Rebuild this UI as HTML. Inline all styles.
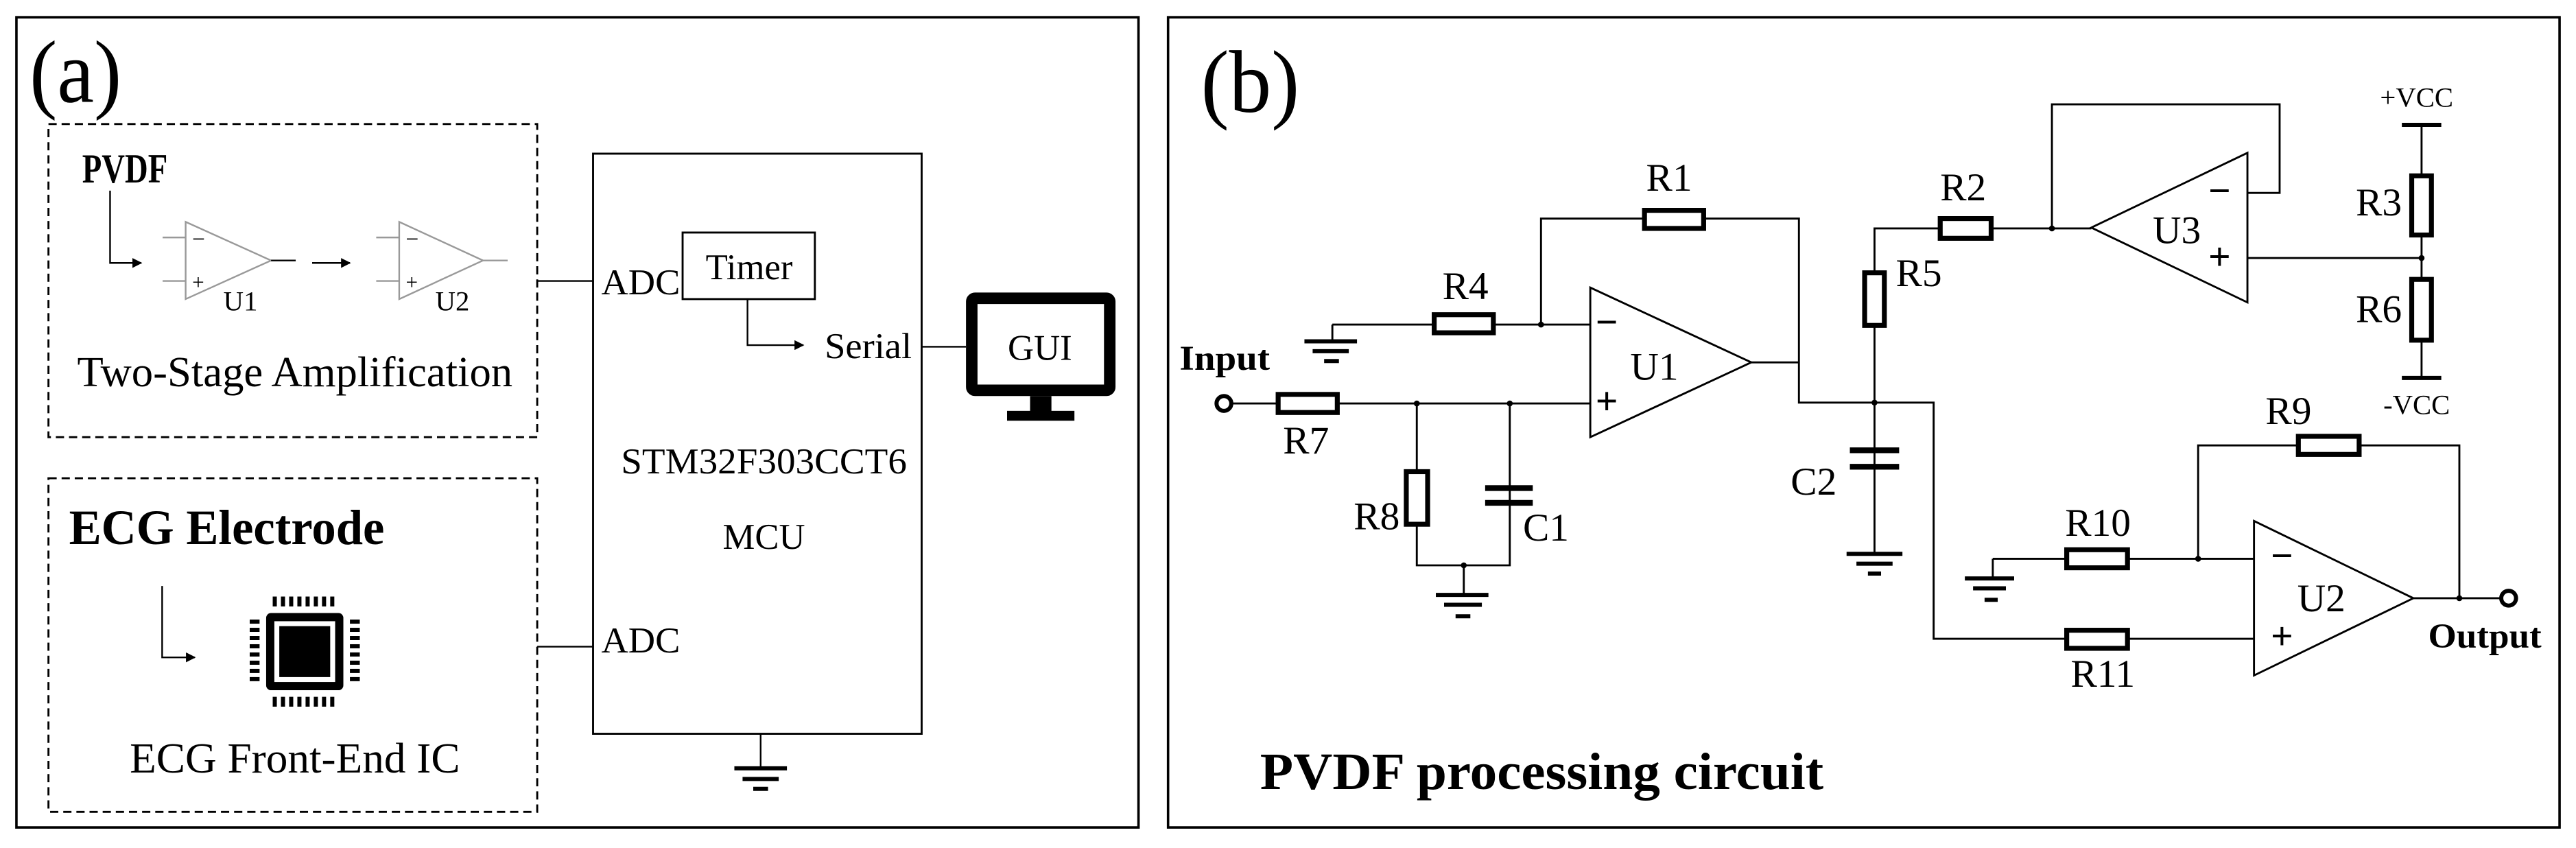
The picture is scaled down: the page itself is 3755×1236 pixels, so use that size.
<!DOCTYPE html>
<html><head><meta charset="utf-8"><style>
html,body{margin:0;padding:0;background:#fff;}
svg{display:block;}
text{font-family:"Liberation Serif",serif;fill:#000;}
.b{font-weight:bold;}
</style></head><body>
<svg width="3755" height="1236" viewBox="0 0 1568 516" preserveAspectRatio="none" xmlns="http://www.w3.org/2000/svg">
<defs>
<marker id="ar" viewBox="0 0 10 10" refX="9" refY="5" markerWidth="6" markerHeight="6" orient="auto"><path d="M0,0 L10,5 L0,10 z" fill="#000"/></marker>
</defs>
<!-- Panel a -->
<rect x="10" y="10.5" width="683" height="493" fill="none" stroke="#000" stroke-width="1.5"/>
<text x="18" y="62" font-size="54" textLength="56" lengthAdjust="spacingAndGlyphs">(a)</text>
<rect x="29.5" y="75.5" width="297.5" height="190.5" fill="none" stroke="#000" stroke-width="1.2" stroke-dasharray="5,3"/>
<rect x="29.5" y="291" width="297.5" height="203" fill="none" stroke="#000" stroke-width="1.2" stroke-dasharray="5,3"/>
<text x="50" y="111" font-size="25" class="b" textLength="52" lengthAdjust="spacingAndGlyphs">PVDF</text>
<polyline points="67,116 67,160 86,160" fill="none" stroke="#000" stroke-width="1" marker-end="url(#ar)"/>
<g stroke="#999" stroke-width="1" fill="none">
<polygon points="113,135 113,182 165,158.5" fill="#fff"/>
<line x1="99" y1="144.5" x2="113" y2="144.5"/><line x1="99" y1="171" x2="113" y2="171"/>
<line x1="165" y1="158.5" x2="180" y2="158.5" stroke="#000"/>
<polygon points="243,135 243,182 294,158.5" fill="#fff"/>
<line x1="229" y1="144.5" x2="243" y2="144.5"/><line x1="229" y1="171" x2="243" y2="171"/>
<line x1="294" y1="158.5" x2="309" y2="158.5"/>
</g>
<text x="117" y="150" font-size="14">−</text><text x="117" y="176" font-size="13">+</text>
<text x="247" y="150" font-size="14">−</text><text x="247" y="176" font-size="13">+</text>
<text x="136" y="189" font-size="17">U1</text><text x="265" y="189" font-size="17">U2</text>
<line x1="190" y1="160" x2="213" y2="160" stroke="#000" stroke-width="1" marker-end="url(#ar)"/>
<text x="47" y="235" font-size="26" textLength="265" lengthAdjust="spacingAndGlyphs">Two-Stage Amplification</text>
<line x1="327" y1="171" x2="361" y2="171" stroke="#000" stroke-width="1"/>
<rect x="361" y="93.5" width="200" height="353" fill="none" stroke="#000" stroke-width="1.2"/>
<text x="366" y="179" font-size="22" textLength="48" lengthAdjust="spacingAndGlyphs">ADC</text>
<rect x="415.5" y="141.5" width="80.5" height="40.5" fill="#fff" stroke="#000" stroke-width="1.2"/>
<text x="456" y="170" font-size="22" text-anchor="middle">Timer</text>
<polyline points="455,182 455,210 489,210" fill="none" stroke="#000" stroke-width="1" marker-end="url(#ar)"/>
<text x="502" y="218" font-size="22" textLength="53" lengthAdjust="spacingAndGlyphs">Serial</text>
<line x1="561" y1="211" x2="588" y2="211" stroke="#000" stroke-width="1"/>
<rect x="591.5" y="181.5" width="84" height="56" fill="none" stroke="#000" stroke-width="7" rx="2"/>
<rect x="627" y="241" width="13" height="10" fill="#000"/>
<rect x="613" y="250" width="41" height="6" fill="#000"/>
<text x="633" y="219" font-size="22" text-anchor="middle">GUI</text>
<text x="378" y="288" font-size="22" textLength="174" lengthAdjust="spacingAndGlyphs">STM32F303CCT6</text>
<text x="465" y="334" font-size="22" text-anchor="middle">MCU</text>
<line x1="327" y1="393.5" x2="361" y2="393.5" stroke="#000" stroke-width="1"/>
<text x="366" y="397" font-size="22" textLength="48" lengthAdjust="spacingAndGlyphs">ADC</text>
<g stroke="#000" stroke-width="2.5">
<line x1="463" y1="446.5" x2="463" y2="467.5" stroke-width="1"/>
<line x1="447" y1="467.5" x2="479" y2="467.5"/><line x1="452" y1="474" x2="474" y2="474"/><line x1="458.5" y1="480" x2="467.5" y2="480"/>
</g>
<text x="42" y="331" font-size="30" class="b" textLength="192" lengthAdjust="spacingAndGlyphs">ECG Electrode</text>
<polyline points="98.7,356.6 98.7,400 118.6,400" fill="none" stroke="#000" stroke-width="1" marker-end="url(#ar)"/>
<g fill="#000">
<rect x="162" y="373" width="47" height="47" rx="3"/>
<rect x="167" y="378" width="37" height="37" fill="#fff"/>
<rect x="170" y="381" width="31" height="31"/>
<g id="pins"><rect x="166" y="363" width="2.5" height="6"/><rect x="171" y="363" width="2.5" height="6"/><rect x="176" y="363" width="2.5" height="6"/><rect x="181" y="363" width="2.5" height="6"/><rect x="186" y="363" width="2.5" height="6"/><rect x="191" y="363" width="2.5" height="6"/><rect x="196" y="363" width="2.5" height="6"/><rect x="201" y="363" width="2.5" height="6"/></g>
<use href="#pins" transform="translate(0,61)"/>
<g transform="rotate(90 185.5 396.5)"><use href="#pins"/><use href="#pins" transform="translate(0,61)"/></g>
</g>
<text x="79" y="470" font-size="26" textLength="201" lengthAdjust="spacingAndGlyphs">ECG Front-End IC</text>

<!-- Panel b -->
<rect x="711" y="10.5" width="847" height="493" fill="none" stroke="#000" stroke-width="1.5"/>
<text x="731" y="68" font-size="54" textLength="60" lengthAdjust="spacingAndGlyphs">(b)</text>
<g stroke="#000" stroke-width="1.2" fill="none">
<polyline points="938,197.5 938,133 1095,133 1095,245 1177,245 1177,388.7 1372,388.7"/>
<line x1="811" y1="197.5" x2="969" y2="197.5"/>
<line x1="811" y1="197.5" x2="811" y2="207.7"/>
<polygon points="968,175 968,266 1066,220.5" fill="#fff"/>
<line x1="1066" y1="220.5" x2="1095" y2="220.5"/>
<line x1="750" y1="245.5" x2="968" y2="245.5"/>
<polyline points="862.4,245.5 862.4,344 919,344 919,245.5"/>
<line x1="891" y1="344" x2="891" y2="362"/>
<polyline points="1141,245 1141,139 1273,139"/>
<line x1="1141" y1="245" x2="1141" y2="337"/>
<polyline points="1249,139 1249,63.5 1387.6,63.5 1387.6,117.4 1368,117.4"/>
<polygon points="1273,138.5 1368,93 1368,184" fill="#fff"/>
<polyline points="1368,157 1474,157"/>
<line x1="1474" y1="76" x2="1474" y2="230"/>
<line x1="1213" y1="340" x2="1372" y2="340"/>
<line x1="1213" y1="340" x2="1213" y2="352"/>
<polyline points="1338,340 1338,271 1497,271 1497,364"/>
<polygon points="1372,317 1372,411 1469,364" fill="#fff"/>
<line x1="1469" y1="364" x2="1523" y2="364"/>
</g>
<g stroke="#000" stroke-width="2.5">
<line x1="1462" y1="76" x2="1486" y2="76"/><line x1="1462" y1="230" x2="1486" y2="230"/>
<line x1="794" y1="207.7" x2="826" y2="207.7"/><line x1="799" y1="213.7" x2="821" y2="213.7"/><line x1="806" y1="219.7" x2="815" y2="219.7"/>
<line x1="874" y1="362" x2="906" y2="362"/><line x1="879" y1="368" x2="902" y2="368"/><line x1="886" y1="375" x2="895" y2="375"/>
<line x1="1124" y1="337" x2="1158" y2="337"/><line x1="1130" y1="343" x2="1152" y2="343"/><line x1="1137" y1="349" x2="1145" y2="349"/>
<line x1="1196" y1="352" x2="1226" y2="352"/><line x1="1201" y1="358" x2="1221" y2="358"/><line x1="1208" y1="365" x2="1216" y2="365"/>
</g>
<g stroke="#000" stroke-width="3.5">
<line x1="904" y1="297" x2="933" y2="297"/><line x1="904" y1="306" x2="933" y2="306"/>
<line x1="1126" y1="274" x2="1156" y2="274"/><line x1="1126" y1="284" x2="1156" y2="284"/>
</g>
<g stroke="#000" stroke-width="3" fill="#fff">
<rect x="1001" y="128" width="36" height="11"/>
<rect x="873" y="191.5" width="36" height="11"/>
<rect x="778" y="240" width="36" height="11"/>
<rect x="856" y="287" width="13" height="32"/>
<rect x="1135" y="166" width="12" height="32"/>
<rect x="1181" y="133" width="31" height="12"/>
<rect x="1468" y="107" width="12" height="36"/>
<rect x="1468" y="170" width="12" height="37"/>
<rect x="1399" y="265.5" width="37" height="11"/>
<rect x="1258" y="334.5" width="37" height="11"/>
<rect x="1258" y="383.5" width="37" height="11"/>
</g>
<g fill="#000">
<circle cx="938" cy="197.5" r="1.8"/><circle cx="862.4" cy="245.5" r="1.8"/><circle cx="919" cy="245.5" r="1.8"/>
<circle cx="891" cy="344" r="1.8"/><circle cx="1141" cy="245" r="1.8"/><circle cx="1249" cy="139" r="1.8"/>
<circle cx="1474" cy="157" r="1.8"/><circle cx="1338" cy="340" r="1.8"/><circle cx="1497" cy="364" r="1.8"/>
</g>
<circle cx="745" cy="245.5" r="4.5" fill="#fff" stroke="#000" stroke-width="2.5"/>
<circle cx="1527" cy="364" r="4.5" fill="#fff" stroke="#000" stroke-width="2.5"/>
<g font-size="24">
<text x="1016" y="116" text-anchor="middle">R1</text>
<text x="892" y="182" text-anchor="middle">R4</text>
<text x="795" y="276" text-anchor="middle">R7</text>
<text x="852" y="322" text-anchor="end">R8</text>
<text x="927" y="329">C1</text>
<text x="1118" y="301" text-anchor="end">C2</text>
<text x="1154" y="174">R5</text>
<text x="1195" y="122" text-anchor="middle">R2</text>
<text x="1462" y="131" text-anchor="end">R3</text>
<text x="1462" y="196" text-anchor="end">R6</text>
<text x="1393" y="258" text-anchor="middle">R9</text>
<text x="1277" y="326" text-anchor="middle">R10</text>
<text x="1280" y="418" text-anchor="middle">R11</text>
<text x="1007" y="231" text-anchor="middle">U1</text>
<text x="1325" y="148" text-anchor="middle">U3</text>
<text x="1413" y="372" text-anchor="middle">U2</text>
</g>
<g font-size="17">
<text x="1471" y="65" text-anchor="middle">+VCC</text>
<text x="1471" y="252" text-anchor="middle">-VCC</text>
</g>
<g font-size="24" class="b">
<text x="978" y="204" text-anchor="middle">−</text><text x="978" y="252" text-anchor="middle">+</text>
<text x="1351" y="124" text-anchor="middle">−</text><text x="1351" y="164" text-anchor="middle">+</text>
<text x="1389" y="346" text-anchor="middle">−</text><text x="1389" y="395" text-anchor="middle">+</text>
</g>
<text x="718" y="225" font-size="21" class="b" textLength="55" lengthAdjust="spacingAndGlyphs">Input</text>
<text x="1478" y="394" font-size="21" class="b" textLength="69" lengthAdjust="spacingAndGlyphs">Output</text>
<text x="767" y="480" font-size="32" class="b" textLength="343" lengthAdjust="spacingAndGlyphs">PVDF processing circuit</text>
</svg>
</body></html>
